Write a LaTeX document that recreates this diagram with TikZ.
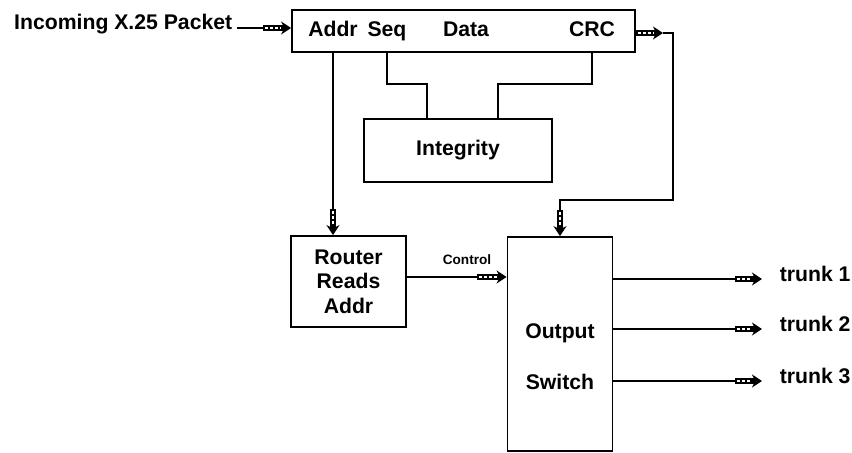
\documentclass[tikz,border=0pt]{standalone}
\usepackage{fontspec}
\setmainfont{Liberation Sans}
\usetikzlibrary{arrows.meta}
\tikzstyle{block}=[draw,line width=0.9pt,inner sep=0pt]

\begin{document}
\begin{tikzpicture}[x=0.5pt,y=-0.5pt,line width=0.8pt,font=\fontsize{10.6}{12.3}\selectfont\bfseries]
					\tikzstyle{pipe}=[line width=2.6pt,-{Stealth[length=5pt,width=6.5pt]},postaction={draw=white,line width=0.8pt,dash pattern=on 1.5pt off 1pt,-,shorten >=5pt,shorten <=1pt}]
					\tikzstyle{lbl}=[inner sep=2pt,anchor=base]
					\useasboundingbox (0,0) rectangle (852,453);
					% boxes
					\node [block,minimum width=171.5pt,minimum height=21pt] (packet) at (463.5,31) {};
					\node [lbl] (addr) at (333,37) {Addr};
					\node [lbl] (seq) at (387,37) {Seq};
					\node [lbl] (data) at (466,37) {Data};
					\node [lbl] (crc) at (592,37) {CRC};
					\node [block,minimum width=94pt,minimum height=31.5pt] (integrity) at (458,150.5) {Integrity};
					\node [block,align=center,minimum width=57.5pt,minimum height=45.5pt] (router) at (348.5,281.5) {Router\\Reads\\Addr};
					\node [block,minimum width=52.5pt,minimum height=107pt] (switch) at (560,344) {};
					\node [lbl] (outlbl) at (560,339) {Output};
					\node [lbl] (swlbl) at (560,390) {Switch};
					\node [lbl,anchor=base east] (incoming) at (237,30) {Incoming X.25 Packet};
					\node [lbl,font=\fontsize{6.8}{8}\selectfont\bfseries] (ctllbl) at (467,265) {Control};
					% incoming packet
					\draw (incoming.east |- 0,28) -- (263,28) coordinate (inpipe);
					\draw [pipe] (inpipe) -- (packet.west |- inpipe);
					% address to router
					\draw (addr |- packet.south) -- ++(0,156) coordinate (addrpipe);
					\draw [pipe] (addrpipe) -- (addr |- router.north);
					% integrity check
					\draw (seq |- packet.south) |- (427,84) -- (427,0 |- integrity.north);
					\draw (crc |- packet.south) |- (498,84) -- (498,0 |- integrity.north);
					% packet on to the switch
					\draw [pipe] (packet.east |- 0,33) -- (663,33) coordinate (crcout);
					\draw (crcout) -- (673,33) |- (560,200) -- (560,210) coordinate (swpipe);
					\draw [pipe] (swpipe) -- (switch.north);
					% control
					\draw (router.east |- 0,277) -- (477,277) coordinate (ctlpipe);
					\draw [pipe] (ctlpipe) -- (switch.west |- ctlpipe);
					% trunks
					\foreach \y/\n in {279/1,329/2,381/3} {
						\node [lbl,anchor=base west] (trunk\n) at (775,\y+3) {trunk \n};
						\draw (switch.east |- 0,\y) -- (735,\y) coordinate (tpipe\n);
						\draw [pipe] (tpipe\n) -- (762,\y);
					}
					\end{tikzpicture}
\end{document}
